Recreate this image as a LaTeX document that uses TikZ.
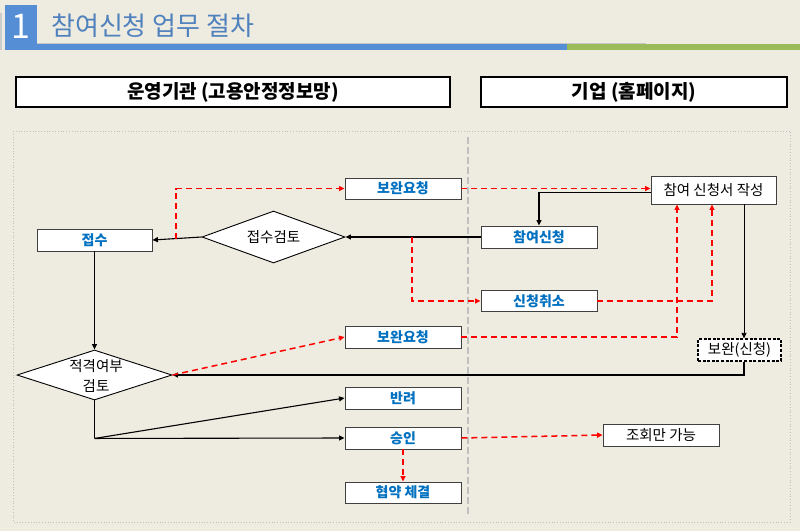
\documentclass[tikz,border=0pt]{standalone}
\usepackage{fontspec}
\setmainfont{Noto Sans CJK KR}
\usetikzlibrary{shapes.geometric,arrows.meta,shadows,calc}
\definecolor{bg}{RGB}{238,235,224}
\definecolor{ttl}{RGB}{79,129,189}
\definecolor{barblue}{RGB}{85,142,213}
\definecolor{bargreen}{RGB}{155,187,89}
\definecolor{lblue}{RGB}{0,112,192}
\definecolor{rd}{RGB}{255,0,0}
\begin{document}
\begin{tikzpicture}[x=1pt,y=-1pt,
  >={Triangle[length=5.5pt,width=5pt]},
  box/.style={draw=black!75, line width=0.9pt, fill=white, minimum width=116pt,
    minimum height=22pt, inner sep=0pt,
    general shadow={fill=black!45, shadow xshift=0.9pt, shadow yshift=-0.9pt}},
  bluebox/.style={box, text=lblue, font=\fontsize{14}{15}\selectfont\bfseries},
  blackbox/.style={box, text=black, font=\fontsize{14.5}{16}\selectfont},
  dia/.style={diamond, draw=black, line width=0.9pt, fill=white, inner sep=0pt},
  hdr/.style={draw=black, line width=1.2pt, fill=white, minimum height=30pt,
    inner sep=0pt, font=\fontsize{19}{21}\selectfont\bfseries},
  solidline/.style={draw=black, line width=1.1pt},
  thickline/.style={draw=black, line width=1.7pt},
  thinline/.style={draw=black, line width=0.8pt},
  reddash/.style={draw=rd, line width=1.5pt, dash pattern=on 6pt off 4pt}
]
\useasboundingbox (0,0) rectangle (800,531);
\fill[bg] (0,0) rectangle (800,531);

% title
\fill[black!20] (0,13) rectangle (1.5,50);
\draw[black!22, line width=0.8pt] (37,43) -- (646,43);
\fill[barblue] (5,5) rectangle (37,50);
\fill[barblue] (37,43.5) rectangle (567,50);
\fill[bargreen] (567,43.5) rectangle (800,50);
\node[text=white, font=\fontsize{34}{36}\selectfont, inner sep=0pt] (num) at (21,26) {1};
\node[anchor=west, text=ttl, font=\fontsize{26}{28}\selectfont, inner sep=0pt] (title) at (51,26) {참여신청 업무 절차};

% headers
\node[hdr, minimum width=434pt] (hdrL) at (233,92) {운영기관 (고용안정정보망)};
\node[hdr, minimum width=306pt] (hdrR) at (634,92) {기업 (홈페이지)};

% frame and divider
\draw[black!25, dotted, line width=0.8pt] (13,131) rectangle (790,522);
\draw[black!25, line width=1.6pt, dash pattern=on 7pt off 3pt] (468,137) -- (468,515);

% nodes
\node[bluebox, minimum width=115pt] (recv) at (94.5,240) {접수};
\node[dia, minimum width=143pt, minimum height=52pt] (rev1) at (273.5,237) {};
\node[font=\fontsize{14.5}{16}\selectfont, inner sep=0pt] (rev1t) at (rev1.center) {접수검토};
\node[bluebox, minimum height=21pt] (req1) at (403,188.5) {보완요청};
\node[bluebox] (apply) at (539,237) {참여신청};
\node[bluebox, minimum height=21pt] (cancel) at (539,301) {신청취소};
\node[blackbox, minimum width=125pt, minimum height=28pt] (form) at (713.5,190) {참여 신청서 작성};
\node[draw=black, line width=1.3pt, dash pattern=on 3pt off 1.6pt, fill=white,
  minimum width=83pt, minimum height=22pt, inner sep=0pt,
  font=\fontsize{14.5}{16}\selectfont] (supp) at (739.5,350) {보완(신청)};
\node[bluebox] (req2) at (403,337) {보완요청};
\node[dia, minimum width=155pt, minimum height=50pt] (rev2) at (94.5,375) {};
\node[font=\fontsize{14.5}{20}\selectfont, align=center, inner sep=0pt] (rev2t) at (96,376) {적격여부\\검토};
\node[bluebox] (reject) at (403,398) {반려};
\node[bluebox] (approve) at (403,438) {승인};
\node[bluebox, minimum height=21pt] (sign) at (403,492.5) {협약 체결};
\node[blackbox] (viewonly) at (661,435) {조회만 가능};

% coordinates
\coordinate (r1) at ($(rev1.west)!0.52!(recv.east)$);
\coordinate (r2) at ($(rev1.east)!0.4926!(apply.west)$);
\coordinate (fs1) at ([xshift=-36.5pt]form.south);
\coordinate (fs2) at ([xshift=-1.5pt]form.south);
\coordinate (fb) at ([xshift=30.5pt]form.south);
\coordinate (corner) at ([yshift=-38pt]rev2.south);

% connectors
\draw[thickline,->] (apply.west) -- (rev1.east);
\draw[solidline,->] (rev1.west) -- (recv.east);
\draw[reddash,->] (r1) |- (req1.west);
\draw[reddash,->] (req1.east) -- (req1.east -| form.west);
\draw[solidline,->] ([yshift=-2.5pt]form.west) -| (apply.north);
\draw[reddash,->] (r2) |- (cancel.west);
\draw[reddash,->] (cancel.east) -| (fs2);
\draw[reddash,->] (req2.east) -| (fs1);
\draw[thinline,->] (fb) -- (fb |- supp.north);
\draw[thickline,->] (fb |- supp.south) |- (rev2.east);
\draw[reddash,->] (rev2.east) -- (req2.west);
\draw[solidline,->] (recv.south) -- (rev2.north);
\draw[solidline] (rev2.south) -- (corner);
\draw[solidline,->] (corner) -- (reject.west);
\draw[solidline,->] (corner) -- (approve.west);
\draw[reddash,->] (approve.east) -- (viewonly.west);
\draw[reddash,->] (approve.south) -- (sign.north);
\end{tikzpicture}
\end{document}
